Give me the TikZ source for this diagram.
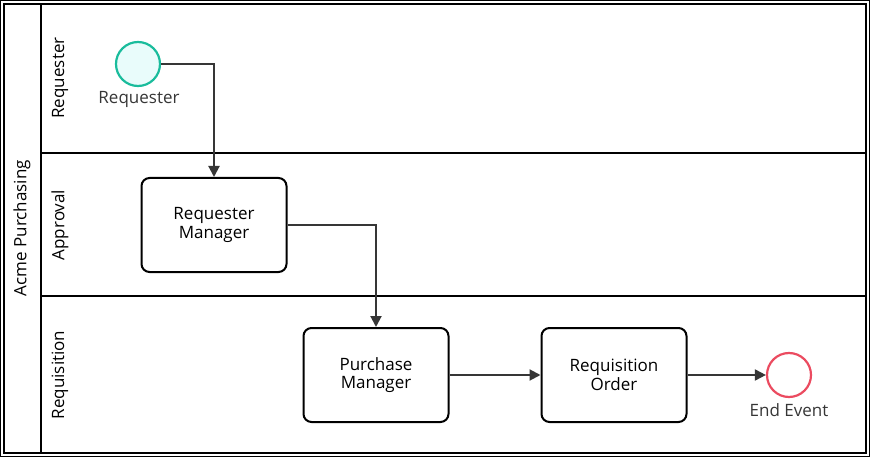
\documentclass[tikz,border=0pt]{standalone}
\usepackage{fontspec}
\setmainfont{Open Sans}
\usepackage{tikz}
\usetikzlibrary{arrows.meta}
\definecolor{startline}{HTML}{1ABC9C}
\definecolor{startfill}{HTML}{E9FCFB}
\definecolor{endline}{HTML}{EB4B60}
\definecolor{flowgray}{HTML}{363636}

\begin{document}
\begin{tikzpicture}[x=1pt, y=-1pt, font=\fontsize{17}{18.5}\selectfont,
	task/.style={draw, line width=2pt, rounded corners=8pt, minimum width=145pt, minimum height=94pt, align=center, inner sep=0pt},
	event/.style={circle, minimum size=44pt, inner sep=0pt, line width=2.2pt},
	flow/.style={draw=flowgray, line width=2pt, -{Triangle[length=11pt,width=11pt]}},
	lane/.style={rotate=90}]
	\useasboundingbox (0,0) rectangle (870,457);
	\draw[line width=1.2pt] (0.6,0.6) rectangle (869.4,456.4);
	\draw[line width=2.2pt] (4,4) rectangle (866,453);
	\draw[line width=2.2pt] (41,4) -- (41,453);
	\draw[line width=2.2pt] (41,153) -- (866,153);
	\draw[line width=2.2pt] (41,296) -- (866,296);
	\node[lane] (pool) at (22,228) {Acme Purchasing};
	\node[lane] (laneA) at (60,78) {Requester};
	\node[lane] (laneB) at (60,225) {Approval};
	\node[lane] (laneC) at (60,375) {Requisition};
	% events
	\node[event, draw=startline, fill=startfill] (start) at (138,64) {};
	\node[text=flowgray] (startlbl) at (139,99) {Requester};
	\node[event, draw=endline, fill=white] (end) at (789,375) {};
	\node[text=flowgray] (endlbl) at (789,410) {End Event};
	% tasks
	\node[task] (rm) at (214,225) {Requester\\Manager};
	\node[task] (pm) at (376,375) {Purchase\\Manager};
	\node[task] (ro) at (614,375) {Requisition\\Order};
	% flows
	\draw[flow] (start.east) -| (rm.north);
	\draw[flow] (rm.east) -| (pm.north);
	\draw[flow] (pm.east) -- (ro.west);
	\draw[flow] (ro.east) -- (end.west);
\end{tikzpicture}
\end{document}
